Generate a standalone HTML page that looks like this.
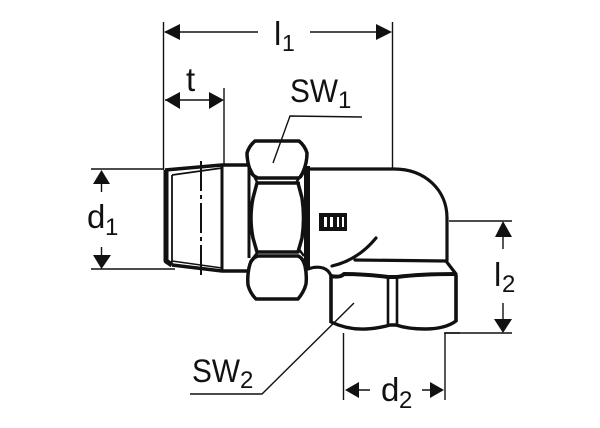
<!DOCTYPE html>
<html><head><meta charset="utf-8"><style>
html,body{margin:0;padding:0;background:#fff}
svg{display:block}
text{font-family:"Liberation Sans",sans-serif;fill:#111}
</style></head><body>
<svg width="600" height="428" viewBox="0 0 600 428" xmlns="http://www.w3.org/2000/svg">
<rect width="600" height="428" fill="#fff"/>
<!-- thin dimension lines -->
<g fill="none" stroke="#111" stroke-width="1.4">
<path d="M163.5 22V170M392.5 22V169M224 88V166"/>
<path d="M165 32H258M310 32H378M165 100H222"/>
<path d="M91 169H164M91 269H175"/>
<path d="M101.5 180V192M101.5 247V258"/>
<path d="M449 221H512M444 333H512M503 232V249M503 303V322"/>
<path d="M343.5 333V400M445 333V400M445 333H460M350 390H370M422 390H440"/>
</g>
<!-- arrowheads -->
<g fill="#111">
<path d="M164 32L180 24V40Z"/><path d="M392 32L376 24V40Z"/>
<path d="M165 100L180 92V109Z"/><path d="M224 100L209 92V109Z"/>
<path d="M101.5 170L110 184H93Z"/><path d="M101.5 269L93 255H111Z"/>
<path d="M503 221L512 237H495Z"/><path d="M503 333L494 319H512Z"/>
<path d="M345 390L359 382V398Z"/><path d="M444 390L430 382V398Z"/>
</g>
<!-- threaded end -->
<g fill="none" stroke="#111" stroke-linejoin="round">
<path d="M166 170V261L172 265" stroke-width="5"/>
<path d="M165 170L222 165H248" stroke-width="3.5"/>
<path d="M172 175L222 168" stroke-width="1.8"/>
<path d="M172 175V262" stroke-width="1.8"/>
<path d="M172 265L222 271H248" stroke-width="3.5"/>
<path d="M172 261L222 268" stroke-width="1.4"/>
<path d="M222 166V271" stroke-width="3"/>
<path d="M201 161V276" stroke-width="2" stroke-dasharray="30 4 4 4"/>
</g>
<!-- big nut -->
<g fill="#fff" stroke="#111" stroke-width="3.5" stroke-linejoin="round">
<path d="M255 141H299Q305 146 307 153Q307 163 303 172Q301 178 298 178H258Q252 176 250 170Q247 161 247 153Q249 146 255 141Z"/>
<path d="M258 256H298Q303 258 305 266Q307 275 306 284Q304 292 298 299H256Q250 293 248 285Q247 274 250 264Q252 258 258 256Z"/>
</g>
<g fill="none" stroke="#111" stroke-linejoin="round">
<path d="M257 183H298L302 198Q305 218 302 238L298 252H257L253 238Q249 218 253 198Z" stroke-width="3.5"/>
<path d="M256 178H300M256 183H300" stroke-width="2.5"/>
<path d="M256 252H298M256 256H298" stroke-width="3"/>
<path d="M249 165V258" stroke-width="3"/>
<path d="M305 168L296 183M304 256L298 248M250 168L257 182M250 262L257 253" stroke-width="2.5"/>
</g>
<path d="M304 166H310V269H304Z" fill="#111"/>
<!-- elbow body -->
<g fill="none" stroke="#111" stroke-width="3.2" stroke-linecap="round" stroke-linejoin="round">
<path d="M309 169H394C425 169 447 190 447 218V260"/>
<path d="M308 269Q316 266 323 268Q329 270 331 276"/>
<path d="M332 266Q358 260 376 238"/>
<path d="M355 260L446 261L456 274"/>
</g>
<!-- small nut -->
<g fill="none" stroke="#111" stroke-linejoin="round">
<path d="M331 276V323M456 275V322" stroke-width="3.6"/>
<path d="M331 276Q340 278 344 274Q365 274 388 277H397Q420 274 456 274" stroke-width="4"/>
<path d="M331 322Q348 330 366 329Q380 328 390 325H396Q408 329 425 329Q445 329 456 321" stroke-width="3.4"/>
<path d="M388 277V325M397 277V325" stroke-width="2.6"/>
</g>
<!-- DIN mark -->
<rect x="319" y="213" width="28" height="18" fill="#111"/>
<path d="M324 217h3v10h-3zM330 217h3v10h-3zM337 217h2v10h-2zM342 217h2v10h-2z" fill="#fff"/>
<!-- leaders drawn over the nuts -->
<g fill="none" stroke="#111" stroke-width="1.4">
<path d="M362 117L290 116L273 163"/>
<path d="M190 394H262L354 303"/>
</g>
<!-- labels -->
<text x="274" y="45" font-size="33">l</text>
<text x="282" y="51" font-size="23">1</text>
<text x="186" y="91" font-size="33">t</text>
<text x="290" y="102" font-size="32" textLength="48" lengthAdjust="spacingAndGlyphs">SW</text>
<text x="338" y="108" font-size="24">1</text>
<text x="87" y="228" font-size="33">d</text>
<text x="105" y="235" font-size="24">1</text>
<text x="494" y="286" font-size="33">l</text>
<text x="502" y="292" font-size="24">2</text>
<text x="192" y="382" font-size="32" textLength="48" lengthAdjust="spacingAndGlyphs">SW</text>
<text x="240" y="388" font-size="24">2</text>
<text x="381" y="401" font-size="33">d</text>
<text x="399" y="408" font-size="24">2</text>
</svg>
</body></html>
